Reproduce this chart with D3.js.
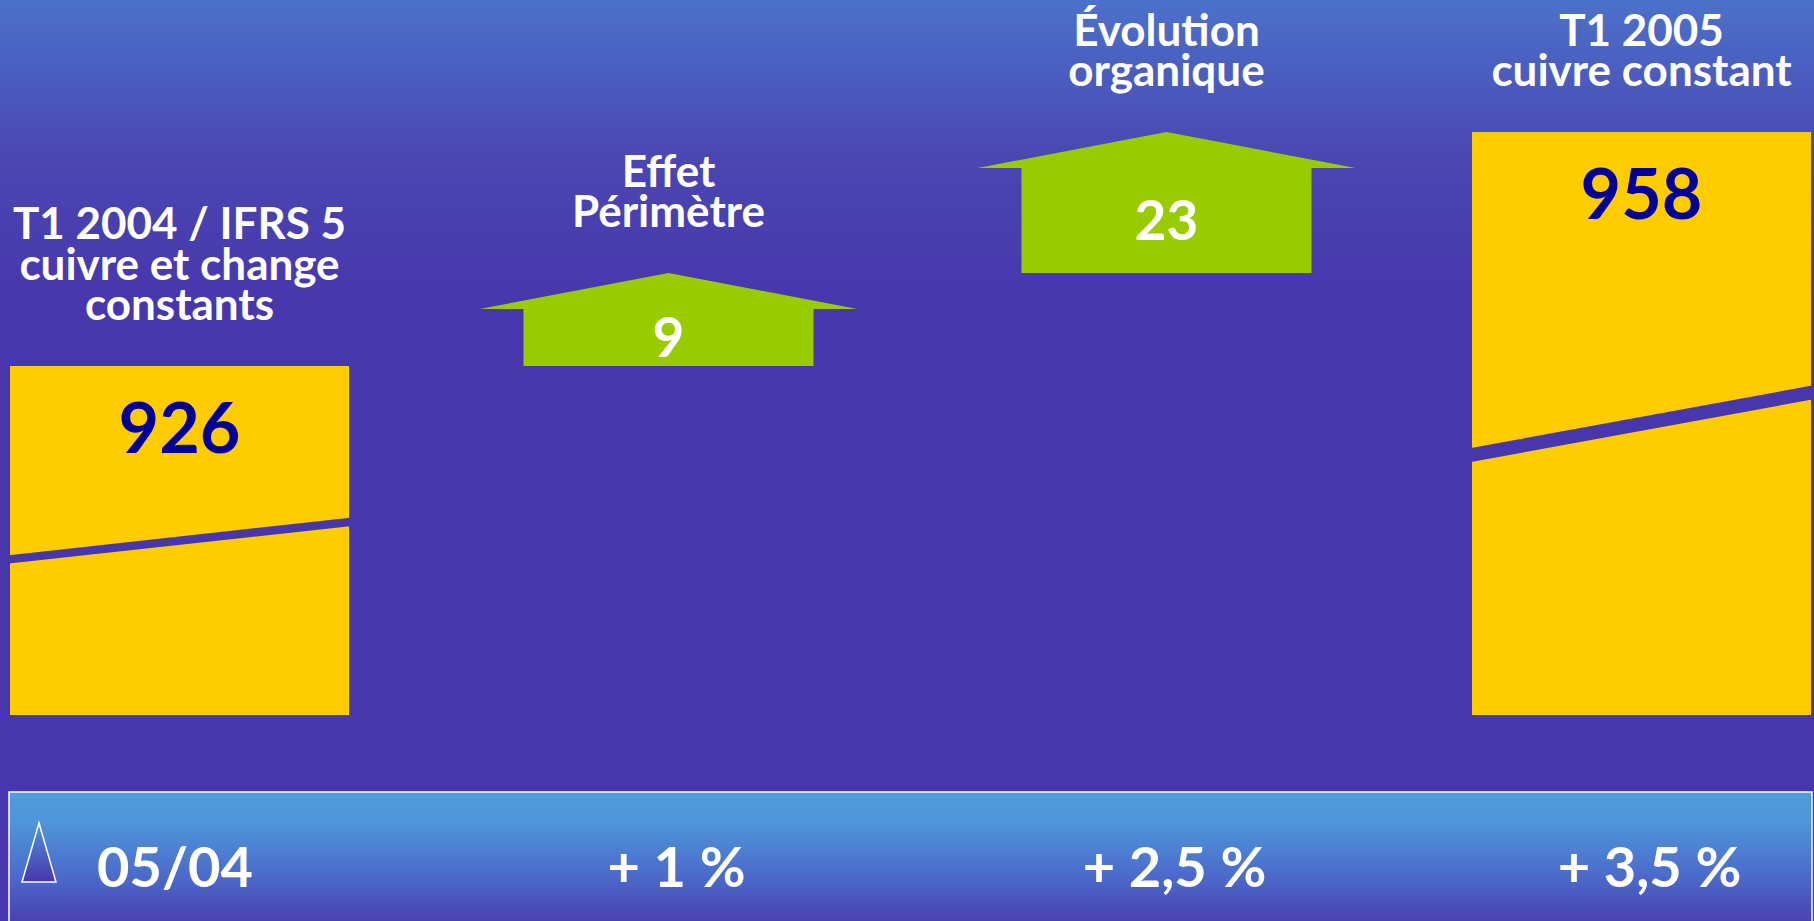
<!DOCTYPE html>
<html>
<head>
<meta charset="utf-8">
<script src="https://cdn.jsdelivr.net/npm/d3@7/dist/d3.min.js"></script>
<style>
  html, body { margin: 0; padding: 0; background: #4836ad; overflow: hidden; }
  svg { display: block; }
  text { font-family: Lato, "Open Sans", sans-serif; font-weight: 700; }
</style>
</head>
<body>
<script>
// ---- data ----
const categories = ["T1 2004", "Effet Périmètre", "Évolution organique", "T1 2005"];
const titleLines = [
  ["T1 2004 / IFRS 5", "cuivre et change", "constants"],
  ["Effet", "Périmètre"],
  ["Évolution", "organique"],
  ["T1 2005", "cuivre constant"]
];
const kinds = ["total", "delta", "delta", "total"];
const values = [926, 9, 23, 958];
const growthLabels = ["05/04", "+ 1 %", "+ 2,5 %", "+ 3,5 %"];

// ---- layout ----
const W = 1814, H = 921;
const plotBottom = 715;
const barWidth = 339;
const arrowBodyWidth = 290;
const arrowWing = 44;
const arrowHead = 36;

const svg = d3.select("body").append("svg").attr("width", W).attr("height", H);
const defs = svg.append("defs");

const bgGrad = defs.append("linearGradient").attr("id", "bg").attr("x1", 0).attr("y1", 0).attr("x2", 0).attr("y2", 1);
[[0, "#4b71ca"], [0.17, "#4a47b2"], [0.33, "#4836ad"], [1, "#4836ad"]].forEach(([o, c]) =>
  bgGrad.append("stop").attr("offset", o).attr("stop-color", c));

const bandGrad = defs.append("linearGradient").attr("id", "band").attr("x1", 0).attr("y1", 0).attr("x2", 0).attr("y2", 1);
[[0, "#4f9cdc"], [0.22, "#4e95d9"], [0.6, "#4c6acb"], [1, "#4838ad"]].forEach(([o, c]) =>
  bandGrad.append("stop").attr("offset", o).attr("stop-color", c));

const triGrad = defs.append("linearGradient").attr("id", "tri").attr("x1", 0).attr("y1", 0).attr("x2", 0).attr("y2", 1);
[[0, "#4f95d9"], [1, "#4836ad"]].forEach(([o, c]) =>
  triGrad.append("stop").attr("offset", o).attr("stop-color", c));

svg.append("rect").attr("width", W).attr("height", H).attr("fill", "url(#bg)");

// scales
const x = d3.scaleOrdinal().domain(categories).range([179.5, 668.5, 1166.5, 1641.5]);

// cumulative positions for the waterfall
let run = 0;
const items = categories.map((c, i) => {
  let start, end;
  if (kinds[i] === "total") { start = null; end = values[i]; run = values[i]; }
  else { start = run; end = run + values[i]; run = end; }
  return { cat: c, kind: kinds[i], value: values[i], start, end, title: titleLines[i], growth: growthLabels[i] };
});
// broken value axis (piecewise linear)
const y = d3.scaleLinear().domain([926, 935, 958]).range([366, 273, 132]);

const g = svg.append("g");

// totals: yellow bars with a break stripe
items.filter(d => d.kind === "total").forEach(d => {
  const x0 = x(d.cat) - barWidth / 2, x1 = x(d.cat) + barWidth / 2;
  const top = y(d.end), h = plotBottom - top;
  g.append("rect").attr("x", x0).attr("y", top).attr("width", barWidth).attr("height", h).attr("fill", "#ffcc00");
  const t = h * 0.024;
  const yl = top + h * 0.554, yr = top + h * 0.447;
  g.append("path")
    .attr("d", `M${x0 - 1},${yl - t / 2}L${x1 + 1},${yr - t / 2}L${x1 + 1},${yr + t / 2}L${x0 - 1},${yl + t / 2}Z`)
    .attr("fill", "#4836ad");
  g.append("text").attr("x", x(d.cat)).attr("y", top + 87)
    .attr("text-anchor", "middle").attr("font-size", 70).attr("fill", "#000099").text(d.value);
});

// deltas: green arrows
items.filter(d => d.kind === "delta").forEach(d => {
  const cx = x(d.cat);
  const bottom = y(d.start), tip = y(d.end), wing = tip + arrowHead;
  const bx0 = cx - arrowBodyWidth / 2, bx1 = cx + arrowBodyWidth / 2;
  const pts = [
    [bx0, bottom], [bx0, wing], [bx0 - arrowWing, wing], [cx, tip],
    [bx1 + arrowWing, wing], [bx1, wing], [bx1, bottom]
  ];
  g.append("path").attr("d", d3.line()(pts) + "Z").attr("fill", "#99cc00");
  g.append("text").attr("x", cx).attr("y", (wing + bottom) / 2 + 19)
    .attr("text-anchor", "middle").attr("font-size", 55).attr("fill", "#ffffff").text(d.value);
});

// titles
items.forEach(d => {
  const top = d.kind === "total" ? y(d.end) : y(d.end);
  const lastBase = top - 46;
  const n = d.title.length;
  d.title.forEach((line, j) => {
    svg.append("text").attr("x", x(d.cat)).attr("y", lastBase - (n - 1 - j) * 40.5)
      .attr("text-anchor", "middle").attr("font-size", 44).attr("fill", "#ffffff").text(line);
  });
});

// bottom band
svg.append("rect").attr("x", 9).attr("y", 792).attr("width", 1803).attr("height", 140)
  .attr("fill", "url(#band)").attr("stroke", "#ffffff").attr("stroke-width", 1.5);
svg.append("path").attr("d", "M39,823L22,882L56,882Z")
  .attr("fill", "url(#tri)").attr("stroke", "#ffffff").attr("stroke-width", 1.5);

items.forEach((d, i) => {
  const t = svg.append("text").attr("y", 887).attr("font-size", 56).attr("fill", "#ffffff").text(d.growth);
  if (i === 0) t.attr("x", 97).attr("text-anchor", "start");
  else t.attr("x", x(d.cat) + 8).attr("text-anchor", "middle");
});
</script>
</body>
</html>
